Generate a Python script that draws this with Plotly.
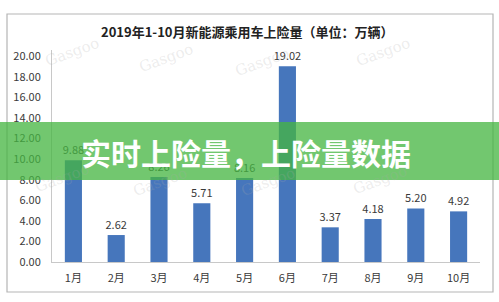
import plotly.graph_objects as go

months = ["1月", "2月", "3月", "4月", "5月", "6月", "7月", "8月", "9月", "10月"]
values = [9.88, 2.62, 8.26, 5.71, 8.16, 19.02, 3.37, 4.18, 5.20, 4.92]
title_text = "2019年1-10月新能源乘用车上险量（单位：万辆）"
banner_text = "实时上险量，上险量数据"
y_ticks = [0, 2, 4, 6, 8, 10, 12, 14, 16, 18, 20]

W, H = 499, 302
FONT = "Noto Sans CJK SC"

fig = go.Figure()
fig.add_trace(go.Bar(
    x=months, y=values,
    marker=dict(color="#4676BC", line=dict(width=0)),
    width=0.4,
    text=[f"{v:.2f}" for v in values],
    textposition="outside",
    constraintext="none",
    textfont=dict(size=11, color="#3a3a3a", family=FONT),
    cliponaxis=False,
))

shapes = [
    # outer chart border
    dict(type="rect", xref="paper", yref="paper",
         x0=(7 - 52) / 428, x1=(493 - 52) / 428,
         y0=-(292 - 262) / 212, y1=(262 - 14) / 212,
         line=dict(color="#b5b5b5", width=1.2), fillcolor="rgba(0,0,0,0)", layer="below"),
    # green banner
    dict(type="rect", xref="paper", yref="paper",
         x0=(0 - 52) / 428, x1=(499 - 52) / 428,
         y0=(262 - 180) / 212, y1=(262 - 122) / 212,
         line=dict(width=0), fillcolor="rgba(70,182,66,0.76)", layer="above"),
]

annotations = [
    dict(text=title_text, xref="paper", yref="paper",
         x=(247 - 52) / 428, y=(262 - 32) / 212, showarrow=False,
         xanchor="center", yanchor="middle",
         font=dict(size=13, color="#222222", family=FONT, weight="bold")),
    dict(text=banner_text, xref="paper", yref="paper",
         x=(246 - 52) / 428, y=(262 - 152) / 212, showarrow=False,
         xanchor="center", yanchor="middle",
         font=dict(size=30, color="white", family=FONT, weight="bold")),
]

# faint watermarks
for (px, py) in [(72, 52), (166, 58), (262, 62), (383, 52),
                 (62, 178), (160, 182), (268, 182), (380, 180)]:
    annotations.append(dict(text="Gasgoo", xref="paper", yref="paper",
                            x=(px - 52) / 428, y=(262 - py) / 212, showarrow=False,
                            xanchor="center", yanchor="middle",
                            textangle=-20,
                            font=dict(size=15, color="rgba(170,170,170,0.22)", family="DejaVu Serif")))

fig.update_layout(
    width=W, height=H,
    margin=dict(l=52, r=19, t=50, b=40),
    paper_bgcolor="white", plot_bgcolor="white",
    showlegend=False,
    bargap=0.6,
    shapes=shapes,
    annotations=annotations,
    xaxis=dict(showline=True, linecolor="#c8c8c8", linewidth=1,
               ticks="", showgrid=False,
               tickfont=dict(size=11, color="#3a3a3a", family=FONT),
               ticklabelstandoff=6),
    yaxis=dict(range=[0, 20.6], tickvals=y_ticks, tickformat=".2f",
               showline=True, linecolor="#c8c8c8", linewidth=1,
               showgrid=False, zeroline=False, ticks="",
               tickfont=dict(size=11, color="#3a3a3a", family=FONT),
               ticklabelstandoff=8),
)

fig.write_html("out.html")
